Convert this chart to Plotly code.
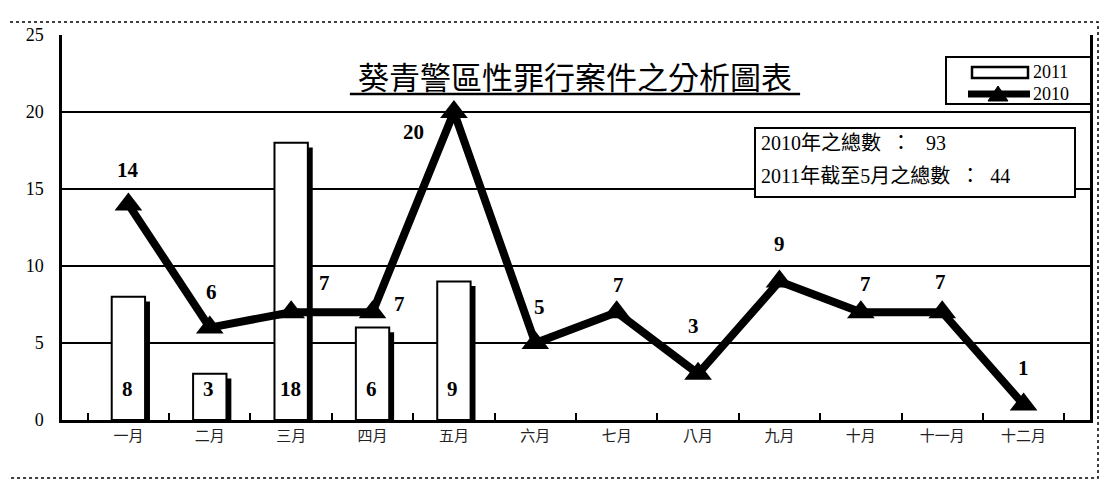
import plotly.graph_objects as go

months = ["一月", "二月", "三月", "四月", "五月", "六月", "七月", "八月", "九月", "十月", "十一月", "十二月"]
cases_2011 = [8, 3, 18, 6, 9]
cases_2010 = [14, 6, 7, 7, 20, 5, 7, 3, 9, 7, 7, 1]
y_ticks = [0, 5, 10, 15, 20, 25]
series_names = ["2011", "2010"]
title_text = "葵青警區性罪行案件之分析圖表"
info_lines = ["2010年之總數  ：   93", "2011年截至5月之總數  ：  44"]

# label pixel offsets (style only) for 2010 line labels
lbl_dx = [0, 2, 33, 27, -40, 4, 2, -5, 0, 5, -2, 0]
lbl_dy = [34, 36, 29, 8, -20, 36, 27, 48, 37, 28, 30, 37]

SERIF = "Liberation Serif, Noto Sans CJK TC"
CJK = "Noto Sans CJK TC"

# plot-area pixel -> paper helpers (plot area 62..1090 x, 35..420 y)
def px(x):
    return (x - 62) / 1028.0

def py(y):
    return (420 - y) / 385.0

fig = go.Figure()

bar_w = 0.41
shadow_y = [v - 0.3 for v in cases_2011]
fig.add_trace(go.Bar(
    x=months[:len(cases_2011)], y=shadow_y, width=bar_w, offset=-bar_w / 2 + 0.06,
    marker=dict(color="black", line=dict(width=0)), showlegend=False, hoverinfo="skip",
))
fig.add_trace(go.Bar(
    x=months[:len(cases_2011)], y=cases_2011, width=bar_w, offset=-bar_w / 2,
    name=series_names[0], marker=dict(color="white", line=dict(color="black", width=2)),
))
fig.add_trace(go.Scatter(
    x=months, y=cases_2010, name=series_names[1], mode="lines+markers",
    line=dict(color="black", width=8),
    marker=dict(symbol="triangle-up", size=24, color="black"),
))

annotations = []
for m, v in zip(months, cases_2011):
    annotations.append(dict(x=m, y=0, text="<b>%d</b>" % v, showarrow=False,
                            yanchor="middle", yshift=31, xshift=-1,
                            font=dict(family=SERIF, size=21, color="black")))
for m, v, dx, dy in zip(months, cases_2010, lbl_dx, lbl_dy):
    annotations.append(dict(x=m, y=v, text="<b>%d</b>" % v, showarrow=False,
                            xshift=dx, yshift=dy, yanchor="middle",
                            font=dict(family=SERIF, size=21, color="black")))

# title
annotations.append(dict(xref="paper", yref="paper", x=0.499, y=0.896, text=title_text,
                        xanchor="center", yanchor="middle",
                        showarrow=False, font=dict(family=CJK, size=31, color="black")))
# info box lines
annotations.append(dict(xref="paper", yref="paper", x=px(759), y=py(143), xanchor="left", yanchor="middle",
                        text=info_lines[0], showarrow=False,
                        font=dict(family=SERIF, size=20, color="black")))
annotations.append(dict(xref="paper", yref="paper", x=px(759), y=py(176), xanchor="left", yanchor="middle",
                        text=info_lines[1], showarrow=False,
                        font=dict(family=SERIF, size=20, color="black")))
# legend texts
annotations.append(dict(xref="paper", yref="paper", x=px(1032), y=py(72), xanchor="left", yanchor="middle",
                        text=series_names[0], showarrow=False, borderpad=0,
                        font=dict(family=SERIF, size=18, color="black")))
annotations.append(dict(xref="paper", yref="paper", x=px(1032), y=py(94), xanchor="left", yanchor="middle",
                        text=series_names[1], showarrow=False, borderpad=0,
                        font=dict(family=SERIF, size=18, color="black")))

shapes = [
    # title underline
    dict(type="line", xref="paper", yref="paper", x0=0.280, x1=0.718, y0=0.847, y1=0.847,
         line=dict(color="black", width=2.5)),
    # outer frame
    dict(type="rect", xref="paper", yref="paper", x0=-0.0554, x1=1.0078, y0=-0.1506, y1=1.0338,
         line=dict(color="black", width=1.5, dash="dot")),
    # info box
    dict(type="rect", xref="paper", yref="paper", x0=px(755), x1=px(1075), y0=py(197), y1=py(128),
         fillcolor="white", line=dict(color="black", width=2), layer="above"),
    # legend box
    dict(type="rect", xref="paper", yref="paper", x0=px(946), x1=px(1091), y0=py(104), y1=py(57),
         fillcolor="white", line=dict(color="black", width=2), layer="above"),
    # legend bar swatch
    dict(type="rect", xref="paper", yref="paper", x0=px(972), x1=px(1028), y0=py(78), y1=py(67),
         fillcolor="white", line=dict(color="black", width=2.5), layer="above"),
    # legend line swatch
    dict(type="line", xref="paper", yref="paper", x0=px(968), x1=px(1030), y0=py(94), y1=py(94),
         line=dict(color="black", width=7), layer="above"),
    # legend triangle
    dict(type="path", xref="paper", yref="paper",
         path="M %f %f L %f %f L %f %f Z" % (px(988), py(101), px(1008), py(101), px(998), py(86)),
         fillcolor="black", line=dict(color="black", width=1), layer="above"),
]

fig.update_layout(
    width=1115, height=495,
    margin=dict(l=54, r=33, t=27, b=83),
    paper_bgcolor="white", plot_bgcolor="white",
    barmode="overlay",
    showlegend=False,
    annotations=annotations,
    shapes=shapes,
    xaxis=dict(type="category", categoryorder="array", categoryarray=months,
               showline=True, linecolor="black", linewidth=2.5,
               ticks="inside", tickson="boundaries", ticklen=7, tickwidth=2, tickcolor="black",
               showgrid=False,
               tickfont=dict(family=SERIF, size=15, color="#222")),
    yaxis=dict(range=[0, 25], tickvals=y_ticks, showgrid=True, gridcolor="black", gridwidth=2,
               showline=True, linecolor="black", linewidth=2.5, mirror=True,
               zeroline=False, ticks="", ticklabelstandoff=12,
               tickfont=dict(family=SERIF, size=18, color="black")),
)

fig.write_html("out.html")
